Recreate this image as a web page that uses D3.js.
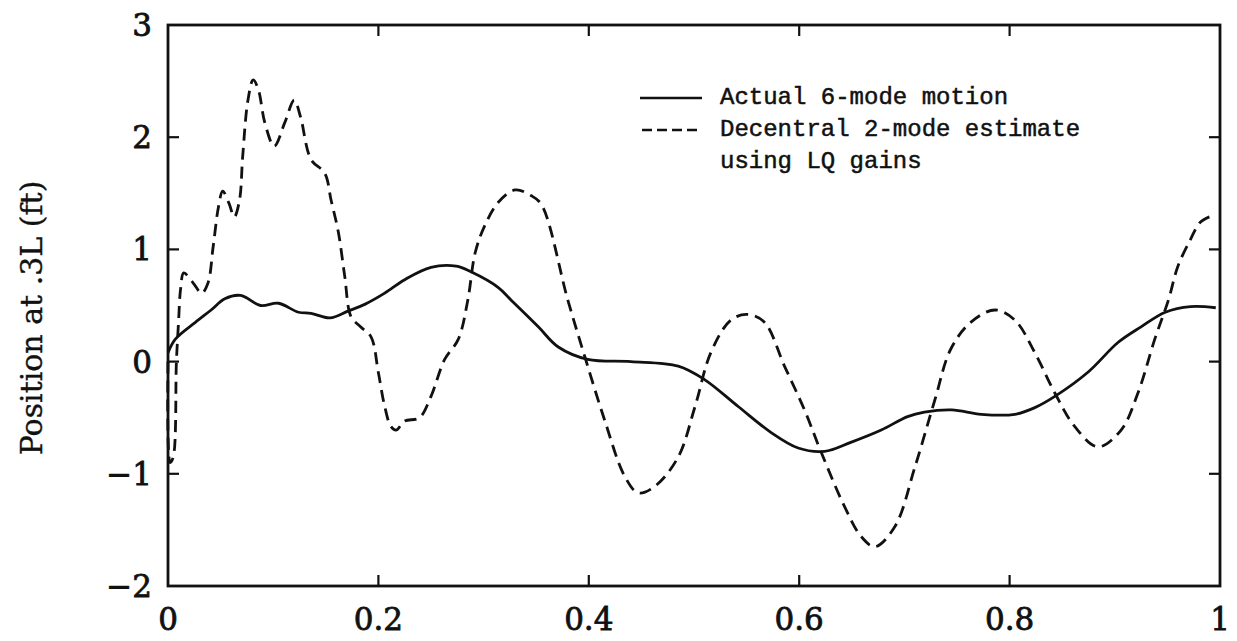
<!DOCTYPE html>
<html><head><meta charset="utf-8">
<script src="https://cdn.jsdelivr.net/npm/d3@7"></script>
<style>body{margin:0;background:#fff}</style>
</head><body>
<svg id="c" width="1237" height="641"></svg>
<script>
const xTicks = [0, 0.2, 0.4, 0.6, 0.8, 1];
const xTickLabels = ["0", "0.2", "0.4", "0.6", "0.8", "1"];
const yTicks = [-2, -1, 0, 1, 2, 3];
const yTickLabels = ["\u22122", "\u22121", "0", "1", "2", "3"];
const yLabel = "Position at .3L (ft)";
const seriesNames = ["Actual 6-mode motion", "Decentral 2-mode estimate", "using LQ gains"];

const actualT = [0,0.007,0.026,0.041,0.054,0.069,0.088,0.105,0.124,0.136,0.154,0.171,0.187,0.206,0.225,0.25,0.274,0.288,0.314,0.326,0.352,0.371,0.399,0.44,0.485,0.51,0.542,0.573,0.599,0.624,0.649,0.678,0.703,0.719,0.745,0.773,0.805,0.824,0.843,0.875,0.903,0.925,0.948,0.972,0.996];
const actualV = [0.08,0.2,0.35,0.46,0.56,0.59,0.50,0.52,0.44,0.43,0.39,0.45,0.51,0.61,0.73,0.84,0.85,0.80,0.66,0.55,0.31,0.13,0.02,0.0,-0.04,-0.16,-0.40,-0.63,-0.77,-0.80,-0.72,-0.61,-0.49,-0.45,-0.43,-0.47,-0.47,-0.41,-0.31,-0.09,0.17,0.31,0.44,0.49,0.48];

const estT = [0,0.002,0.005,0.008,0.01,0.012,0.015,0.024,0.032,0.038,0.043,0.048,0.052,0.058,0.063,0.068,0.071,0.076,0.081,0.086,0.092,0.101,0.111,0.12,0.126,0.136,0.149,0.155,0.162,0.168,0.174,0.183,0.193,0.2,0.206,0.212,0.217,0.225,0.239,0.25,0.263,0.276,0.285,0.292,0.301,0.314,0.33,0.345,0.355,0.38,0.396,0.415,0.434,0.447,0.463,0.485,0.501,0.516,0.535,0.551,0.567,0.586,0.605,0.621,0.643,0.659,0.672,0.691,0.71,0.729,0.744,0.763,0.786,0.805,0.824,0.843,0.862,0.884,0.906,0.922,0.938,0.951,0.96,0.972,0.981,0.99];
const estV = [0,-0.9,-0.85,0.0,0.35,0.65,0.79,0.70,0.61,0.70,1.03,1.38,1.52,1.41,1.29,1.44,1.83,2.33,2.51,2.42,2.13,1.92,2.13,2.33,2.18,1.80,1.68,1.44,1.15,0.76,0.40,0.31,0.22,-0.10,-0.40,-0.58,-0.61,-0.53,-0.50,-0.31,0.02,0.20,0.55,0.97,1.21,1.42,1.53,1.48,1.40,0.55,0.05,-0.52,-1.02,-1.17,-1.11,-0.85,-0.40,0.08,0.37,0.42,0.35,-0.04,-0.43,-0.81,-1.29,-1.56,-1.65,-1.47,-0.94,-0.34,0.11,0.35,0.46,0.37,0.08,-0.28,-0.58,-0.76,-0.61,-0.28,0.20,0.55,0.85,1.09,1.24,1.29];

const svg = d3.select("#c");
const x = d3.scaleLinear().domain([0, 1]).range([168, 1220]);
const y = d3.scaleLinear().domain([-2, 3]).range([586, 25]);

const ink = "#111";
svg.append("rect").attr("x", x(0)).attr("y", y(3)).attr("width", x(1) - x(0)).attr("height", y(-2) - y(3))
  .attr("fill", "none").attr("stroke", ink).attr("stroke-width", 2.8);

const tl = 11;
const g = svg.append("g").attr("stroke", ink).attr("stroke-width", 2.2);
xTicks.slice(1, -1).forEach(t => {
  g.append("line").attr("x1", x(t)).attr("x2", x(t)).attr("y1", y(-2)).attr("y2", y(-2) - tl);
  g.append("line").attr("x1", x(t)).attr("x2", x(t)).attr("y1", y(3)).attr("y2", y(3) + tl);
});
yTicks.slice(1, -1).forEach(v => {
  g.append("line").attr("x1", x(0)).attr("x2", x(0) + tl).attr("y1", y(v)).attr("y2", y(v));
  g.append("line").attr("x1", x(1)).attr("x2", x(1) - tl).attr("y1", y(v)).attr("y2", y(v));
});

const serif = "'DejaVu Serif', serif";
svg.append("g").selectAll("text").data(xTicks).join("text")
  .attr("x", d => x(d)).attr("y", 630).attr("text-anchor", "middle")
  .attr("font-family", serif).attr("font-size", 31).attr("fill", ink)
  .attr("stroke", ink).attr("stroke-width", 0.8)
  .text((d, i) => xTickLabels[i]);
svg.append("g").selectAll("text").data(yTicks).join("text")
  .attr("x", 152).attr("y", d => y(d) + 11).attr("text-anchor", "end")
  .attr("font-family", serif).attr("font-size", 31).attr("fill", ink)
  .attr("stroke", ink).attr("stroke-width", 0.8)
  .text((d, i) => yTickLabels[i]);

svg.append("text").attr("transform", "translate(42,318) rotate(-90)")
  .attr("text-anchor", "middle").attr("font-family", serif).attr("font-size", 30).attr("fill", ink)
  .attr("stroke", ink).attr("stroke-width", 0.4)
  .text(yLabel);

const line = d3.line().x(d => x(d[0])).y(d => y(d[1])).curve(d3.curveCatmullRom.alpha(0.5));
svg.append("path").datum(actualT.map((t, i) => [t, actualV[i]]))
  .attr("d", line).attr("fill", "none").attr("stroke", ink).attr("stroke-width", 2.8);
svg.append("path").datum(estT.map((t, i) => [t, estV[i]]))
  .attr("d", line).attr("fill", "none").attr("stroke", ink).attr("stroke-width", 2.8)
  .attr("stroke-dasharray", "12,7");

const mono = "'Liberation Mono', monospace";
svg.append("line").attr("x1", 640).attr("x2", 702).attr("y1", 98).attr("y2", 98)
  .attr("stroke", ink).attr("stroke-width", 2.6);
svg.append("line").attr("x1", 642).attr("x2", 702).attr("y1", 130).attr("y2", 130)
  .attr("stroke", ink).attr("stroke-width", 2.6).attr("stroke-dasharray", "10,5");
svg.append("g").selectAll("text").data(seriesNames).join("text")
  .attr("x", 720).attr("y", (d, i) => 104 + i * 32)
  .attr("font-family", mono).attr("font-size", 24).attr("fill", ink)
  .attr("stroke", ink).attr("stroke-width", 0.5)
  .text(d => d);
</script>
</body></html>
